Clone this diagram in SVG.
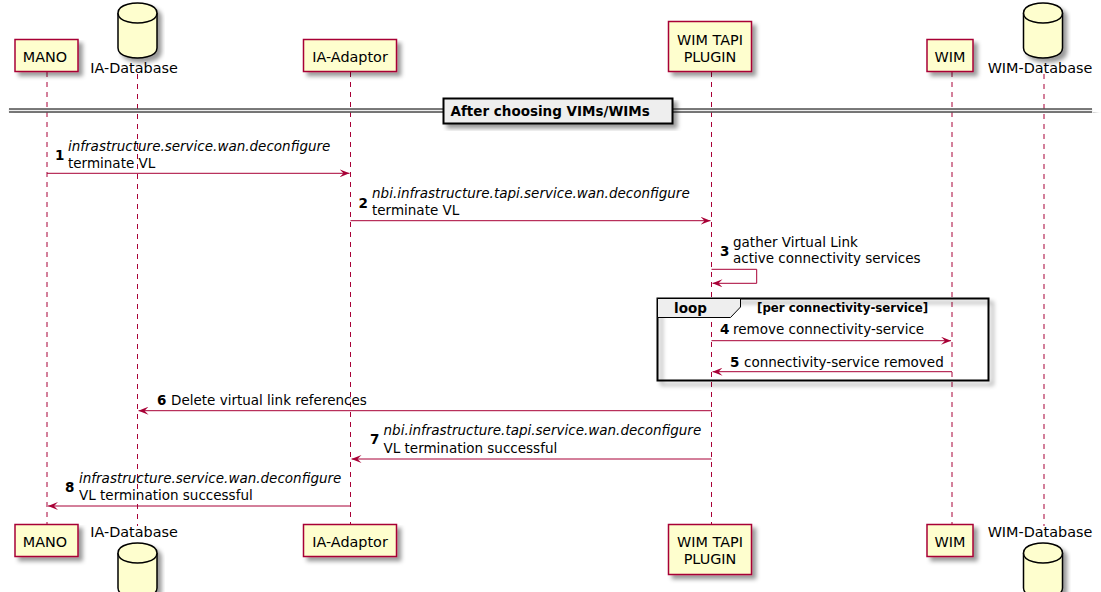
<svg xmlns="http://www.w3.org/2000/svg" width="1101" height="592" viewBox="0 0 1101 592">
  <defs>
    <filter id="shadow" x="-10%" y="-10%" width="130%" height="140%">
      <feGaussianBlur in="SourceAlpha" stdDeviation="2" result="blur"/>
      <feColorMatrix in="blur" type="matrix" values="0 0 0 0 0  0 0 0 0 0  0 0 0 0 0  0 0 0 0.4 0" result="grey"/>
      <feOffset in="grey" dx="4" dy="4" result="off"/>
      <feMerge><feMergeNode in="off"/><feMergeNode in="SourceGraphic"/></feMerge>
    </filter>
    <marker id="head" viewBox="0 0 10 8" refX="10" refY="4" markerWidth="10" markerHeight="8" markerUnits="userSpaceOnUse" orient="auto">
      <polygon points="0,0 10,4 0,8 4,4" fill="#A80036"/>
    </marker>
  </defs>
  <style>
    text { font-family: "DejaVu Sans", "Liberation Sans", sans-serif; fill: #000; }
    .pt { font-size: 14.4px; text-anchor: middle; }
    .msg { font-size: 13.5px; }
    .it { font-style: italic; }
    .num { font-size: 13.5px; font-weight: bold; }
    .box { fill: #FEFECE; stroke: #A80036; stroke-width: 1.5; }
    .db { fill: #FEFECE; stroke: #000; stroke-width: 1.5; }
    .life { stroke: #A80036; stroke-width: 1; stroke-dasharray: 5,5; fill: none; }
    .arrow { stroke: #A80036; stroke-width: 1; fill: none; marker-end: url(#head); }
    .frame { fill: none; stroke: #000; stroke-width: 2; }
  </style>

  <!-- lifelines -->
  <g id="lifelines">
    <line class="life" x1="47" y1="72" x2="47" y2="524"/>
    <line class="life" x1="137.5" y1="74" x2="137.5" y2="526"/>
    <line class="life" x1="350.5" y1="72" x2="350.5" y2="524"/>
    <line class="life" x1="711.5" y1="72" x2="711.5" y2="524"/>
    <line class="life" x1="952" y1="72" x2="952" y2="524"/>
    <line class="life" x1="1044" y1="74" x2="1044" y2="526"/>
  </g>

  <!-- participants, head and foot -->
  <g id="mano">
    <rect class="box" x="15" y="39.5" width="63" height="32" filter="url(#shadow)"/>
    <text class="pt" x="45" y="61.5">MANO</text>
    <rect class="box" x="15" y="524.5" width="63" height="32" filter="url(#shadow)"/>
    <text class="pt" x="45" y="546.5">MANO</text>
  </g>
  <g id="ia-database">
    <g filter="url(#shadow)">
      <path class="db" d="M118,13 C118,3 137.5,3 137.5,3 C137.5,3 157,3 157,13 L157,48 C157,58 137.5,58 137.5,58 C137.5,58 118,58 118,48 Z"/>
      <path class="db" fill="none" d="M118,13 C118,23 137.5,23 137.5,23 C137.5,23 157,23 157,13"/>
    </g>
    <text class="pt" x="134" y="73">IA-Database</text>
    <text class="pt" x="134" y="537">IA-Database</text>
    <g filter="url(#shadow)">
      <path class="db" d="M118,553 C118,543 137.5,543 137.5,543 C137.5,543 157,543 157,553 L157,588 C157,598 137.5,598 137.5,598 C137.5,598 118,598 118,588 Z"/>
      <path class="db" fill="none" d="M118,553 C118,563 137.5,563 137.5,563 C137.5,563 157,563 157,553"/>
    </g>
  </g>
  <g id="ia-adaptor">
    <rect class="box" x="303.5" y="39.5" width="93" height="32" filter="url(#shadow)"/>
    <text class="pt" x="350" y="61.5">IA-Adaptor</text>
    <rect class="box" x="303.5" y="524.5" width="93" height="32" filter="url(#shadow)"/>
    <text class="pt" x="350" y="546.5">IA-Adaptor</text>
  </g>
  <g id="wim-tapi-plugin">
    <rect class="box" x="668.5" y="21.5" width="83" height="50" filter="url(#shadow)"/>
    <text class="pt" x="710" y="45">WIM TAPI</text>
    <text class="pt" x="710" y="61.7">PLUGIN</text>
    <rect class="box" x="668.5" y="524.5" width="83" height="50" filter="url(#shadow)"/>
    <text class="pt" x="710" y="547">WIM TAPI</text>
    <text class="pt" x="710" y="564">PLUGIN</text>
  </g>
  <g id="wim">
    <rect class="box" x="927" y="39.5" width="46" height="32" filter="url(#shadow)"/>
    <text class="pt" x="950" y="61.5">WIM</text>
    <rect class="box" x="927" y="524.5" width="46" height="32" filter="url(#shadow)"/>
    <text class="pt" x="950" y="546.5">WIM</text>
  </g>
  <g id="wim-database">
    <g filter="url(#shadow)">
      <path class="db" d="M1023.5,13 C1023.5,3 1043,3 1043,3 C1043,3 1062.5,3 1062.5,13 L1062.5,48 C1062.5,58 1043,58 1043,58 C1043,58 1023.5,58 1023.5,48 Z"/>
      <path class="db" fill="none" d="M1023.5,13 C1023.5,23 1043,23 1043,23 C1043,23 1062.5,23 1062.5,13"/>
    </g>
    <text class="pt" x="1040" y="73">WIM-Database</text>
    <text class="pt" x="1040" y="537">WIM-Database</text>
    <g filter="url(#shadow)">
      <path class="db" d="M1023.5,553 C1023.5,543 1043,543 1043,543 C1043,543 1062.5,543 1062.5,553 L1062.5,588 C1062.5,598 1043,598 1043,598 C1043,598 1023.5,598 1023.5,588 Z"/>
      <path class="db" fill="none" d="M1023.5,553 C1023.5,563 1043,563 1043,563 C1043,563 1062.5,563 1062.5,553"/>
    </g>
  </g>

  <!-- section divider -->
  <g id="divider">
    <rect x="9" y="109" width="1083" height="3" fill="#EEEEEE" stroke="#EEEEEE" filter="url(#shadow)"/>
    <line x1="9" y1="109" x2="1092" y2="109" stroke="#000" stroke-width="1"/>
    <line x1="9" y1="112" x2="1092" y2="112" stroke="#000" stroke-width="1"/>
    <rect x="443.5" y="98.5" width="229" height="25" fill="#EEEEEE" stroke="#000" stroke-width="2" filter="url(#shadow)"/>
    <text x="450.5" y="115.5" font-size="13.5" font-weight="bold">After choosing VIMs/WIMs</text>
  </g>

  <!-- loop fragment -->
  <g id="loop">
    <rect class="frame" x="657.5" y="298.5" width="331" height="82" filter="url(#shadow)"/>
    <polygon points="657.5,298.5 740.5,298.5 740.5,307 730.5,317.5 657.5,317.5" fill="#EEEEEE" stroke="#000" stroke-width="1"/>
    <text x="674" y="312.5" font-size="13.5" font-weight="bold">loop</text>
    <text x="757" y="311.5" font-size="11.8" font-weight="bold">[per connectivity-service]</text>
  </g>

  <!-- messages -->
  <g id="connectors">
    <line class="arrow" x1="47" y1="173.3" x2="349.5" y2="173.3"/>
    <line class="arrow" x1="350.5" y1="220.7" x2="710.5" y2="220.7"/>
    <polyline class="arrow" points="711.5,269.3 756.7,269.3 756.7,283.3 712.5,283.3"/>
    <line class="arrow" x1="711.5" y1="340.7" x2="951" y2="340.7"/>
    <line class="arrow" x1="952" y1="371.7" x2="712.5" y2="371.7"/>
    <line class="arrow" x1="711.5" y1="410.7" x2="138.5" y2="410.7"/>
    <line class="arrow" x1="711.5" y1="459" x2="351.5" y2="459"/>
    <line class="arrow" x1="350.5" y1="506" x2="48" y2="506"/>
  </g>

  <g id="labels">
    <text class="num" x="55" y="160">1</text>
    <text class="msg it" x="68" y="150.5">infrastructure.service.wan.deconfigure</text>
    <text class="msg" x="68" y="167.5">terminate VL</text>

    <text class="num" x="358.5" y="208">2</text>
    <text class="msg it" x="372" y="198">nbi.infrastructure.tapi.service.wan.deconfigure</text>
    <text class="msg" x="372" y="215">terminate VL</text>

    <text class="num" x="720" y="255.5">3</text>
    <text class="msg" x="733" y="246.7">gather Virtual Link</text>
    <text class="msg" x="733" y="263">active connectivity services</text>

    <text class="num" x="720" y="334">4</text>
    <text class="msg" x="733" y="334">remove connectivity-service</text>

    <text class="num" x="730" y="366.7">5</text>
    <text class="msg" x="744" y="366.7">connectivity-service removed</text>

    <text class="num" x="157" y="405">6</text>
    <text class="msg" x="171" y="405">Delete virtual link references</text>

    <text class="num" x="370" y="444">7</text>
    <text class="msg it" x="383.5" y="435">nbi.infrastructure.tapi.service.wan.deconfigure</text>
    <text class="msg" x="383.5" y="452.5">VL termination successful</text>

    <text class="num" x="65" y="492">8</text>
    <text class="msg it" x="79" y="482.7">infrastructure.service.wan.deconfigure</text>
    <text class="msg" x="79" y="499.5">VL termination successful</text>
  </g>
</svg>
